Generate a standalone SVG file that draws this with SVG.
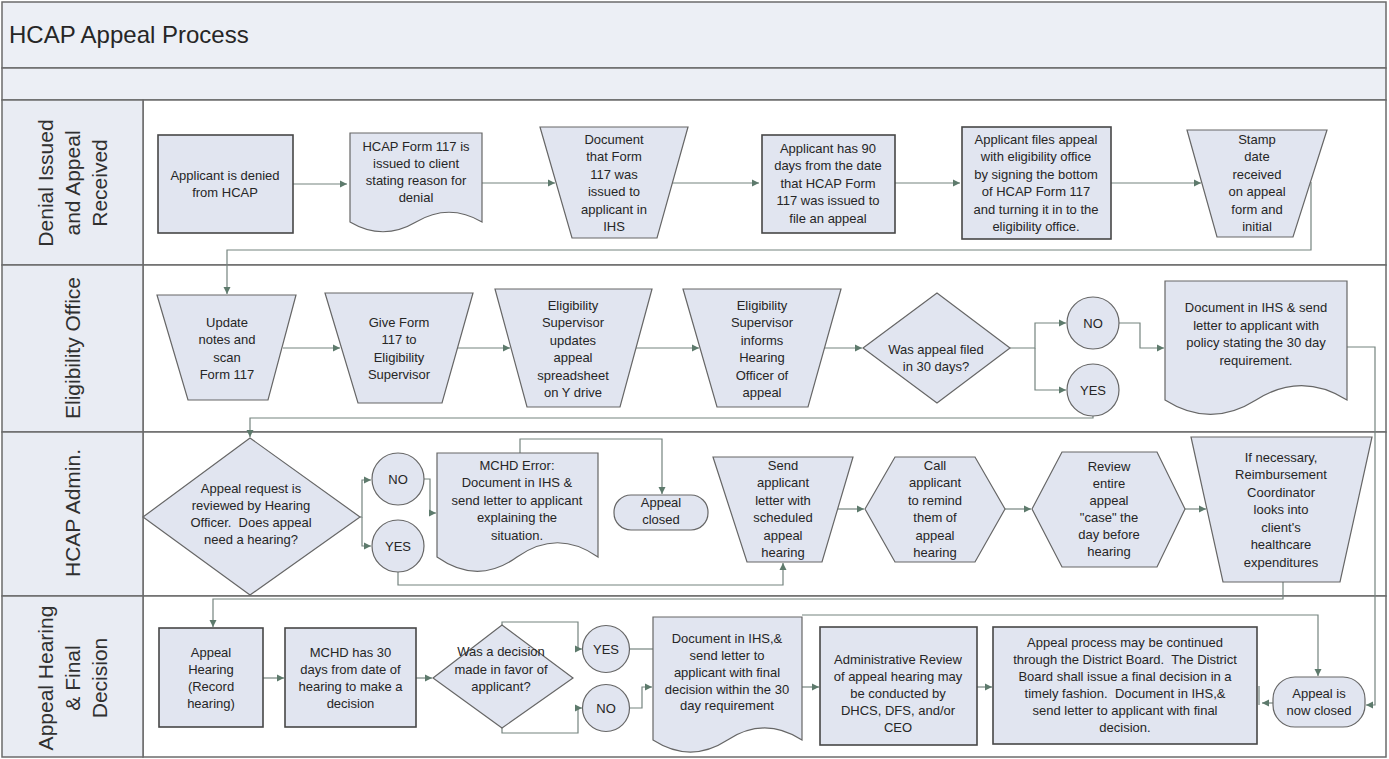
<svg xmlns="http://www.w3.org/2000/svg" width="1389" height="759" viewBox="0 0 1389 759">
  <defs>
    <marker id="arr" markerWidth="8" markerHeight="8" refX="7" refY="4" orient="auto" markerUnits="userSpaceOnUse">
      <path d="M0,0.5 L7,4 L0,7.5 Z" fill="#5d7a6c"/>
    </marker>
    <style>
      .band { fill: #eceff5; stroke: #6b6b6b; stroke-width: 1.5; }
      .lanehead { fill: #e9ecf3; stroke: #6b6b6b; stroke-width: 1.5; }
      .lane { fill: #ffffff; stroke: #6b6b6b; stroke-width: 1.5; }
      .box { fill: #e1e5f0; stroke: #474747; stroke-width: 1.6; }
      .shape { fill: #e1e5f0; stroke: #666666; stroke-width: 1.2; }
      .conn { fill: none; stroke: #75847f; stroke-width: 1.2; }
      .t { font-family: "Liberation Sans", Arial, sans-serif; font-size: 13px; fill: #262626; text-anchor: middle; white-space: pre; }
      .lt { font-family: "Liberation Sans", Arial, sans-serif; font-size: 21px; fill: #303030; text-anchor: middle; }
      .title { font-family: "Liberation Sans", Arial, sans-serif; font-size: 24px; fill: #262626; }
    </style>
  </defs>

  <!-- pool frame, title and lanes -->
  <g id="pool">
    <rect class="band" x="2" y="2" width="1384" height="66"/>
    <text class="title" x="9" y="43">HCAP Appeal Process</text>
    <rect class="band" x="2" y="68" width="1384" height="32"/>
    <rect class="lane" x="143" y="100" width="1243" height="165"/>
    <rect class="lane" x="143" y="265" width="1243" height="167"/>
    <rect class="lane" x="143" y="432" width="1243" height="164"/>
    <rect class="lane" x="143" y="596" width="1243" height="161"/>
    <rect class="lanehead" x="2" y="100" width="141" height="165"/>
    <rect class="lanehead" x="2" y="265" width="141" height="167"/>
    <rect class="lanehead" x="2" y="432" width="141" height="164"/>
    <rect class="lanehead" x="2" y="596" width="141" height="161"/>
    <text class="lt" transform="translate(53,183) rotate(-90)">Denial Issued</text>
    <text class="lt" transform="translate(80,183) rotate(-90)">and Appeal</text>
    <text class="lt" transform="translate(107,183) rotate(-90)">Received</text>
    <text class="lt" transform="translate(80,348) rotate(-90)">Eligibility Office</text>
    <text class="lt" transform="translate(80,513) rotate(-90)">HCAP Admin.</text>
    <text class="lt" transform="translate(53,678) rotate(-90)">Appeal Hearing</text>
    <text class="lt" transform="translate(80,678) rotate(-90)">&amp; Final</text>
    <text class="lt" transform="translate(107,678) rotate(-90)">Decision</text>
  </g>

  <!-- connectors -->
  <g id="connectors">
    <path class="conn" d="M293,184 H347" marker-end="url(#arr)"/>
    <path class="conn" d="M482,183 H555" marker-end="url(#arr)"/>
    <path class="conn" d="M672,183 H759" marker-end="url(#arr)"/>
    <path class="conn" d="M895,183 H960" marker-end="url(#arr)"/>
    <path class="conn" d="M1111,183 H1201" marker-end="url(#arr)"/>
    <path class="conn" d="M1311,182 V250 H227 V294" marker-end="url(#arr)"/>
    <path class="conn" d="M283,348 H340" marker-end="url(#arr)"/>
    <path class="conn" d="M457,348 H510" marker-end="url(#arr)"/>
    <path class="conn" d="M636,348 H699" marker-end="url(#arr)"/>
    <path class="conn" d="M824,348 H862" marker-end="url(#arr)"/>
    <path class="conn" d="M1010,348 H1035 V323 H1066" marker-end="url(#arr)"/>
    <path class="conn" d="M1035,348 V390 H1066" marker-end="url(#arr)"/>
    <path class="conn" d="M1119,323 H1140 V348 H1164" marker-end="url(#arr)"/>
    <path class="conn" d="M1347,347 H1375 V705 H1366" marker-end="url(#arr)"/>
    <path class="conn" d="M1093,416 V418 H250 V437" marker-end="url(#arr)"/>
    <path class="conn" d="M360,517 H362 V480 H371" marker-end="url(#arr)"/>
    <path class="conn" d="M362,517 V546 H371" marker-end="url(#arr)"/>
    <path class="conn" d="M424,479 H430 V513 H436" marker-end="url(#arr)"/>
    <path class="conn" d="M520,453 V439 H662 V494" marker-end="url(#arr)"/>
    <path class="conn" d="M398,572 V585 H783 V563" marker-end="url(#arr)"/>
    <path class="conn" d="M838,509 H864" marker-end="url(#arr)"/>
    <path class="conn" d="M1005,509 H1031" marker-end="url(#arr)"/>
    <path class="conn" d="M1185,509 H1206" marker-end="url(#arr)"/>
    <path class="conn" d="M1283,582 V599 H213 V627" marker-end="url(#arr)"/>
    <path class="conn" d="M263,678 H284" marker-end="url(#arr)"/>
    <path class="conn" d="M416,678 H432" marker-end="url(#arr)"/>
    <path class="conn" d="M502,625 V622 H578 V649 H582" marker-end="url(#arr)"/>
    <path class="conn" d="M502,728 V733 H578 V708 H582" marker-end="url(#arr)"/>
    <path class="conn" d="M629,649 H653"/>
    <path class="conn" d="M629,708 H642 V687 H652" marker-end="url(#arr)"/>
    <path class="conn" d="M802,687 H819" marker-end="url(#arr)"/>
    <path class="conn" d="M977,687 H992" marker-end="url(#arr)"/>
    <path class="conn" d="M802,615 H1318 V676" marker-end="url(#arr)"/>
    <path class="conn" d="M1273,703 H1262" marker-end="url(#arr)"/>
    <path class="conn" d="M1259,686 V705"/>
  </g>

  <!-- lane 1: denial issued and appeal received -->
  <g id="n-denied">
    <rect class="box" x="158" y="135" width="135" height="98"/>
    <text class="t" x="225" y="180">Applicant is denied</text>
    <text class="t" x="225" y="197">from HCAP</text>
  </g>
  <g id="n-form117">
    <path class="shape" d="M350,133 H482 V222 C460,209 438,209 416,222 C394,235 372,235 350,222 Z"/>
    <text class="t" x="416" y="151">HCAP Form 117 is</text>
    <text class="t" x="416" y="168">issued to client</text>
    <text class="t" x="416" y="185">stating reason for</text>
    <text class="t" x="416" y="202">denial</text>
  </g>
  <g id="n-document-ihs">
    <polygon class="shape" points="540,127 688,127 657,238 572,238"/>
    <text class="t" x="614" y="143.5">Document</text>
    <text class="t" x="614" y="161">that Form</text>
    <text class="t" x="614" y="178.5">117 was</text>
    <text class="t" x="614" y="196">issued to</text>
    <text class="t" x="614" y="213.5">applicant in</text>
    <text class="t" x="614" y="231">IHS</text>
  </g>
  <g id="n-90days">
    <rect class="box" x="762" y="135" width="133" height="98"/>
    <text class="t" x="828" y="152.5">Applicant has 90</text>
    <text class="t" x="828" y="170">days from the date</text>
    <text class="t" x="828" y="187.5">that HCAP Form</text>
    <text class="t" x="828" y="205">117 was issued to</text>
    <text class="t" x="828" y="222.5">file an appeal</text>
  </g>
  <g id="n-files-appeal">
    <rect class="box" x="962" y="127" width="149" height="112"/>
    <text class="t" x="1036" y="143.5">Applicant files appeal</text>
    <text class="t" x="1036" y="161">with eligibility office</text>
    <text class="t" x="1036" y="178.5">by signing the bottom</text>
    <text class="t" x="1036" y="196">of HCAP Form 117</text>
    <text class="t" x="1036" y="213.5">and turning it in to the</text>
    <text class="t" x="1036" y="231">eligibility office.</text>
  </g>
  <g id="n-stamp">
    <polygon class="shape" points="1187,130 1327,130 1293,237 1217,237"/>
    <text class="t" x="1257" y="143.5">Stamp</text>
    <text class="t" x="1257" y="161">date</text>
    <text class="t" x="1257" y="178.5">received</text>
    <text class="t" x="1257" y="196">on appeal</text>
    <text class="t" x="1257" y="213.5">form and</text>
    <text class="t" x="1257" y="231">initial</text>
  </g>

  <!-- lane 2: eligibility office -->
  <g id="n-update-notes">
    <polygon class="shape" points="157,295 296,295 268,400 188,400"/>
    <text class="t" x="227" y="326.5">Update</text>
    <text class="t" x="227" y="344">notes and</text>
    <text class="t" x="227" y="361.5">scan</text>
    <text class="t" x="227" y="379">Form 117</text>
  </g>
  <g id="n-give-form">
    <polygon class="shape" points="325,293 473,293 442,403 358,403"/>
    <text class="t" x="399" y="326.5">Give Form</text>
    <text class="t" x="399" y="344">117 to</text>
    <text class="t" x="399" y="361.5">Eligibility</text>
    <text class="t" x="399" y="379">Supervisor</text>
  </g>
  <g id="n-supervisor-updates">
    <polygon class="shape" points="495,289 652,289 620,407 527,407"/>
    <text class="t" x="573" y="309.5">Eligibility</text>
    <text class="t" x="573" y="327">Supervisor</text>
    <text class="t" x="573" y="344.5">updates</text>
    <text class="t" x="573" y="362">appeal</text>
    <text class="t" x="573" y="379.5">spreadsheet</text>
    <text class="t" x="573" y="397">on Y drive</text>
  </g>
  <g id="n-supervisor-informs">
    <polygon class="shape" points="683,289 841,289 808,407 717,407"/>
    <text class="t" x="762" y="309.5">Eligibility</text>
    <text class="t" x="762" y="327">Supervisor</text>
    <text class="t" x="762" y="344.5">informs</text>
    <text class="t" x="762" y="362">Hearing</text>
    <text class="t" x="762" y="379.5">Officer of</text>
    <text class="t" x="762" y="397">appeal</text>
  </g>
  <g id="n-filed-30">
    <polygon class="shape" points="863,348 937,293 1010,348 937,403"/>
    <text class="t" x="936" y="354">Was appeal filed</text>
    <text class="t" x="936" y="371">in 30 days?</text>
  </g>
  <g id="n-no-1">
    <circle class="shape" cx="1093" cy="323" r="26"/>
    <text class="t" x="1093" y="327.5">NO</text>
  </g>
  <g id="n-yes-1">
    <circle class="shape" cx="1093" cy="390" r="26"/>
    <text class="t" x="1093" y="394.5">YES</text>
  </g>
  <g id="n-late-letter">
    <path class="shape" d="M1165,281 H1347 V400 C1317,381 1286,381 1256,400 C1226,419 1195,419 1165,400 Z"/>
    <text class="t" x="1256" y="312">Document in IHS &amp; send</text>
    <text class="t" x="1256" y="329.5">letter to applicant with</text>
    <text class="t" x="1256" y="347">policy stating the 30 day</text>
    <text class="t" x="1256" y="364.5">requirement.</text>
  </g>

  <!-- lane 3: HCAP admin -->
  <g id="n-review-request">
    <polygon class="shape" points="143,517 250,438 360,517 250,595"/>
    <text class="t" x="251" y="492.5">Appeal request is</text>
    <text class="t" x="251" y="509.5">reviewed by Hearing</text>
    <text class="t" x="251" y="526.5" xml:space="preserve">Officer.  Does appeal</text>
    <text class="t" x="251" y="543.5">need a hearing?</text>
  </g>
  <g id="n-no-2">
    <circle class="shape" cx="398" cy="479" r="26"/>
    <text class="t" x="398" y="483.5">NO</text>
  </g>
  <g id="n-yes-2">
    <circle class="shape" cx="398" cy="546" r="26"/>
    <text class="t" x="398" y="550.5">YES</text>
  </g>
  <g id="n-mchd-error">
    <path class="shape" d="M437,453 H598 V557 C571,538 544,538 517,557 C491,576 464,576 437,557 Z"/>
    <text class="t" x="517" y="469.5">MCHD Error:</text>
    <text class="t" x="517" y="487">Document in IHS &amp;</text>
    <text class="t" x="517" y="504.5">send letter to applicant</text>
    <text class="t" x="517" y="522">explaining the</text>
    <text class="t" x="517" y="539.5">situation.</text>
  </g>
  <g id="n-appeal-closed">
    <rect class="shape" x="614" y="495" width="94" height="35" rx="17"/>
    <text class="t" x="661" y="507">Appeal</text>
    <text class="t" x="661" y="524">closed</text>
  </g>
  <g id="n-send-letter">
    <polygon class="shape" points="713,457 853,457 822,562 747,562"/>
    <text class="t" x="783" y="469.5">Send</text>
    <text class="t" x="783" y="487">applicant</text>
    <text class="t" x="783" y="504.5">letter with</text>
    <text class="t" x="783" y="522">scheduled</text>
    <text class="t" x="783" y="539.5">appeal</text>
    <text class="t" x="783" y="557">hearing</text>
  </g>
  <g id="n-call-applicant">
    <polygon class="shape" points="865,509 895,457 975,457 1005,509 975,562 895,562"/>
    <text class="t" x="935" y="469.5">Call</text>
    <text class="t" x="935" y="487">applicant</text>
    <text class="t" x="935" y="504.5">to remind</text>
    <text class="t" x="935" y="522">them of</text>
    <text class="t" x="935" y="539.5">appeal</text>
    <text class="t" x="935" y="557">hearing</text>
  </g>
  <g id="n-review-case">
    <polygon class="shape" points="1032,509 1062,452 1157,452 1185,509 1157,567 1062,567"/>
    <text class="t" x="1109" y="470.5">Review</text>
    <text class="t" x="1109" y="487.5">entire</text>
    <text class="t" x="1109" y="504.5">appeal</text>
    <text class="t" x="1109" y="521.5">"case" the</text>
    <text class="t" x="1109" y="538.5">day before</text>
    <text class="t" x="1109" y="555.5">hearing</text>
  </g>
  <g id="n-reimbursement">
    <polygon class="shape" points="1191,437 1372,437 1340,582 1223,582"/>
    <text class="t" x="1281" y="461.5">If necessary,</text>
    <text class="t" x="1281" y="479">Reimbursement</text>
    <text class="t" x="1281" y="496.5">Coordinator</text>
    <text class="t" x="1281" y="514">looks into</text>
    <text class="t" x="1281" y="531.5">client's</text>
    <text class="t" x="1281" y="549">healthcare</text>
    <text class="t" x="1281" y="566.5">expenditures</text>
  </g>

  <!-- lane 4: appeal hearing and final decision -->
  <g id="n-hearing">
    <rect class="box" x="159" y="628" width="104" height="99"/>
    <text class="t" x="211" y="656.5">Appeal</text>
    <text class="t" x="211" y="673.5">Hearing</text>
    <text class="t" x="211" y="690.5">(Record</text>
    <text class="t" x="211" y="707.5">hearing)</text>
  </g>
  <g id="n-30-days">
    <rect class="box" x="285" y="628" width="131" height="99"/>
    <text class="t" x="350.5" y="656.5">MCHD has 30</text>
    <text class="t" x="350.5" y="673.5">days from date of</text>
    <text class="t" x="350.5" y="690.5">hearing to make a</text>
    <text class="t" x="350.5" y="707.5">decision</text>
  </g>
  <g id="n-favor">
    <polygon class="shape" points="433,678 502,625 573,678 502,728"/>
    <text class="t" x="501" y="655.5">Was a decision</text>
    <text class="t" x="501" y="673.5">made in favor of</text>
    <text class="t" x="501" y="690.5">applicant?</text>
  </g>
  <g id="n-yes-3">
    <circle class="shape" cx="606" cy="649" r="23.5"/>
    <text class="t" x="606" y="653.5">YES</text>
  </g>
  <g id="n-no-3">
    <circle class="shape" cx="606" cy="708" r="23.5"/>
    <text class="t" x="606" y="712.5">NO</text>
  </g>
  <g id="n-final-letter">
    <path class="shape" d="M653,617 H802 V740 C777,724 752,724 727.5,740 C703,756 678,756 653,740 Z"/>
    <text class="t" x="727" y="642.5">Document in IHS,&amp;</text>
    <text class="t" x="727" y="659.5">send letter to</text>
    <text class="t" x="727" y="676.5">applicant with final</text>
    <text class="t" x="727" y="693.5">decision within the 30</text>
    <text class="t" x="727" y="710">day requirement</text>
  </g>
  <g id="n-admin-review">
    <rect class="box" x="820" y="627" width="157" height="118"/>
    <text class="t" x="898" y="663.5">Administrative Review</text>
    <text class="t" x="898" y="680.5">of appeal hearing may</text>
    <text class="t" x="898" y="697.5">be conducted by</text>
    <text class="t" x="898" y="714.5">DHCS, DFS, and/or</text>
    <text class="t" x="898" y="731.5">CEO</text>
  </g>
  <g id="n-district-board">
    <rect class="box" x="993" y="627" width="264" height="117"/>
    <text class="t" x="1125" y="646.5">Appeal process may be continued</text>
    <text class="t" x="1125" y="664" xml:space="preserve">through the District Board.  The District</text>
    <text class="t" x="1125" y="681">Board shall issue a final decision in a</text>
    <text class="t" x="1125" y="698" xml:space="preserve">timely fashion.  Document in IHS,&amp;</text>
    <text class="t" x="1125" y="715">send letter to applicant with final</text>
    <text class="t" x="1125" y="732">decision.</text>
  </g>
  <g id="n-now-closed">
    <rect class="shape" x="1273" y="677" width="92" height="50" rx="22"/>
    <text class="t" x="1319" y="697.5">Appeal is</text>
    <text class="t" x="1319" y="714.5">now closed</text>
  </g>
</svg>
